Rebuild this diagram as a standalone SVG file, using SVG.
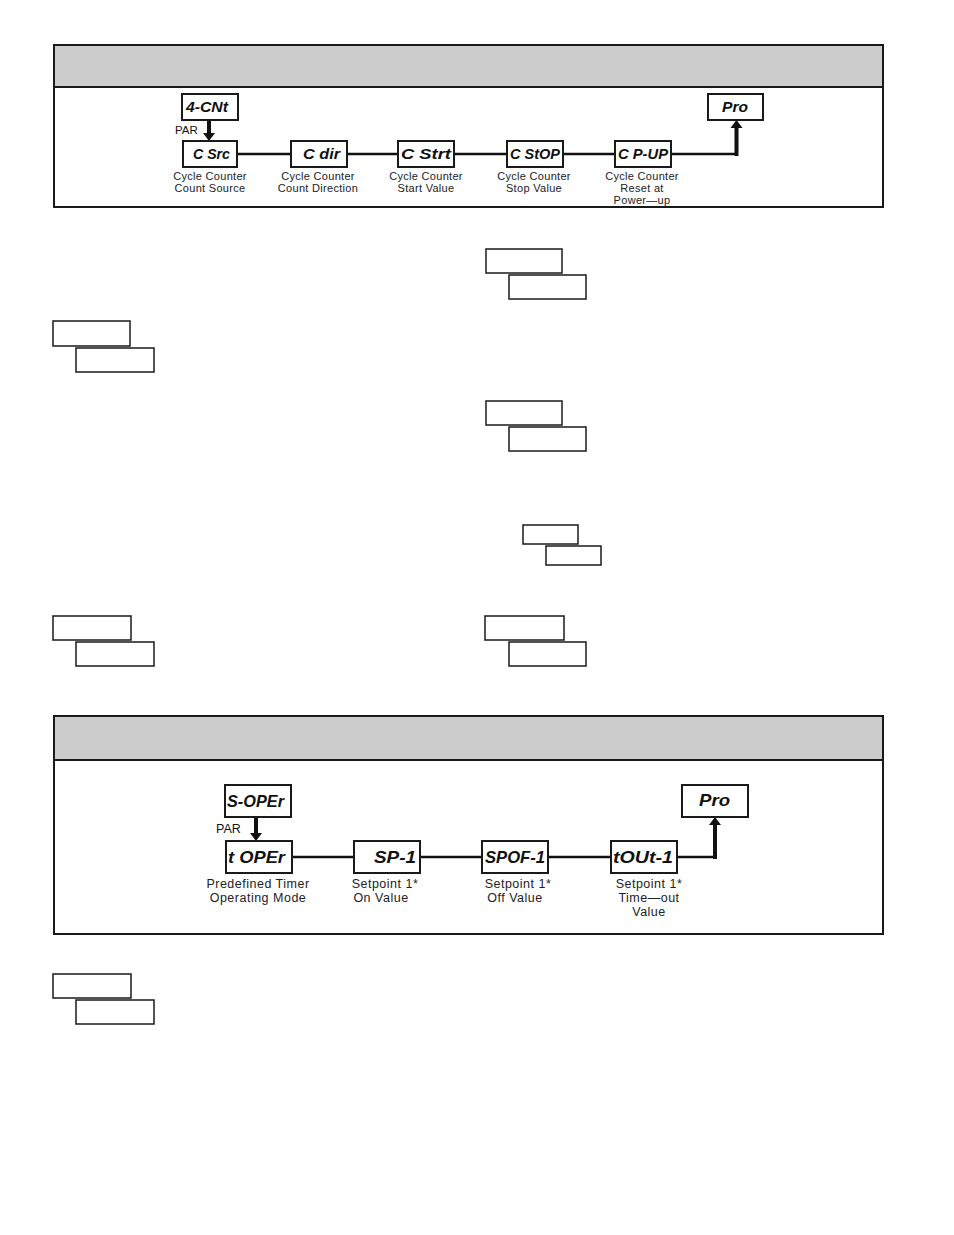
<svg xmlns="http://www.w3.org/2000/svg" width="954" height="1235" viewBox="0 0 954 1235">
<style>
.panel{fill:#fff;stroke:#1a1a1a;stroke-width:2}
.hdr{fill:#cccccc;stroke:#1a1a1a;stroke-width:2}
.node{fill:#fff;stroke:#1a1a1a;stroke-width:2}
.ebox{fill:#fff;stroke:#1a1a1a;stroke-width:1.5}
.seg{font-family:"Liberation Sans","DejaVu Sans",sans-serif;font-weight:bold;font-style:italic;fill:#111}
.s1{font-size:14px}
.s2{font-size:17px}
.lbl{font-family:"Liberation Sans",Arial,sans-serif;fill:#222;text-anchor:middle}
.l1{font-size:11px;letter-spacing:0.3px}
.l2{font-size:12.5px;letter-spacing:0.5px}
.par{font-family:"Liberation Sans",Arial,sans-serif;fill:#111}
.line{fill:none;stroke:#111;stroke-width:2.5}
.thick{fill:none;stroke:#111;stroke-width:4}
.head{fill:#111}
</style>

<g id="panel-top">
<rect class="panel" x="54" y="45" width="829" height="162"/>
<rect class="hdr" x="54" y="45" width="829" height="42"/>
</g>

<g id="connectors-top">
<path class="line" d="M237,154 H291 M347,154 H398 M454,154 H507 M563,154 H615 M671,154 H736.5"/>
<path class="thick" d="M736.5,156 V127"/>
<polygon class="head" points="730.5,128 742.5,128 736.5,120"/>
<path class="thick" d="M209,120 V134"/>
<polygon class="head" points="203,133 215,133 209,141"/>
</g>
<text class="par" x="175" y="134" font-size="11.5">PAR</text>

<g id="n-4cnt"><rect class="node" x="182" y="94" width="56" height="26"/><text class="seg s1" x="186" y="112" textLength="42" lengthAdjust="spacingAndGlyphs">4-CNt</text></g>
<g id="n-csrc"><rect class="node" x="183" y="141" width="54" height="26"/><text class="seg s1" x="193" y="159" textLength="37" lengthAdjust="spacingAndGlyphs">C Src</text>
<text class="lbl l1" x="210" y="180">Cycle Counter</text><text class="lbl l1" x="210" y="192">Count Source</text></g>
<g id="n-cdir"><rect class="node" x="291" y="141" width="56" height="26"/><text class="seg s1" x="303" y="159" textLength="37" lengthAdjust="spacingAndGlyphs">C dir</text>
<text class="lbl l1" x="318" y="180">Cycle Counter</text><text class="lbl l1" x="318" y="192">Count Direction</text></g>
<g id="n-cstrt"><rect class="node" x="398" y="141" width="56" height="26"/><text class="seg s1" x="401" y="159" textLength="50" lengthAdjust="spacingAndGlyphs">C Strt</text>
<text class="lbl l1" x="426" y="180">Cycle Counter</text><text class="lbl l1" x="426" y="192">Start Value</text></g>
<g id="n-cstop"><rect class="node" x="507" y="141" width="56" height="26"/><text class="seg s1" x="510" y="159" textLength="50" lengthAdjust="spacingAndGlyphs">C StOP</text>
<text class="lbl l1" x="534" y="180">Cycle Counter</text><text class="lbl l1" x="534" y="192">Stop Value</text></g>
<g id="n-cpup"><rect class="node" x="615" y="141" width="56" height="26"/><text class="seg s1" x="618" y="159" textLength="50" lengthAdjust="spacingAndGlyphs">C P-UP</text>
<text class="lbl l1" x="642" y="180">Cycle Counter</text><text class="lbl l1" x="642" y="192">Reset at</text><text class="lbl l1" x="642" y="204">Power—up</text></g>
<g id="n-pro1"><rect class="node" x="708" y="94" width="55" height="26"/><text class="seg s1" x="722" y="112" textLength="26" lengthAdjust="spacingAndGlyphs">Pro</text></g>

<g id="empty-boxes">
<rect class="ebox" x="486" y="249" width="76" height="24"/>
<rect class="ebox" x="509" y="275" width="77" height="24"/>
<rect class="ebox" x="53" y="321" width="77" height="25"/>
<rect class="ebox" x="76" y="348" width="78" height="24"/>
<rect class="ebox" x="486" y="401" width="76" height="24"/>
<rect class="ebox" x="509" y="427" width="77" height="24"/>
<rect class="ebox" x="523" y="525" width="55" height="19"/>
<rect class="ebox" x="546" y="546" width="55" height="19"/>
<rect class="ebox" x="53" y="616" width="78" height="24"/>
<rect class="ebox" x="76" y="642" width="78" height="24"/>
<rect class="ebox" x="485" y="616" width="79" height="24"/>
<rect class="ebox" x="509" y="642" width="77" height="24"/>
<rect class="ebox" x="53" y="974" width="78" height="24"/>
<rect class="ebox" x="76" y="1000" width="78" height="24"/>
</g>

<g id="panel-bottom">
<rect class="panel" x="54" y="716" width="829" height="218"/>
<rect class="hdr" x="54" y="716" width="829" height="44"/>
</g>

<g id="connectors-bottom">
<path class="line" d="M292,857 H354 M420,857 H482 M548,857 H611 M677,857 H715"/>
<path class="thick" d="M715,859 V824"/>
<polygon class="head" points="709,825 721,825 715,817"/>
<path class="thick" d="M256,817 V834"/>
<polygon class="head" points="250,833 262,833 256,841"/>
</g>
<text class="par" x="216" y="833" font-size="12.5">PAR</text>

<g id="n-soper"><rect class="node" x="225" y="785" width="66" height="32"/><text class="seg s2" x="227" y="807" textLength="57" lengthAdjust="spacingAndGlyphs">S-OPEr</text></g>
<g id="n-toper"><rect class="node" x="226" y="841" width="66" height="32"/><text class="seg s2" x="228" y="863" textLength="57" lengthAdjust="spacingAndGlyphs">t OPEr</text>
<text class="lbl l2" x="258" y="888">Predefined Timer</text><text class="lbl l2" x="258" y="902">Operating Mode</text></g>
<g id="n-sp1"><rect class="node" x="354" y="841" width="66" height="32"/><text class="seg s2" x="374" y="863" textLength="42" lengthAdjust="spacingAndGlyphs">SP-1</text>
<text class="lbl l2" x="385" y="888">Setpoint 1*</text><text class="lbl l2" x="381" y="902">On Value</text></g>
<g id="n-spof1"><rect class="node" x="482" y="841" width="66" height="32"/><text class="seg s2" x="485" y="863" textLength="60" lengthAdjust="spacingAndGlyphs">SPOF-1</text>
<text class="lbl l2" x="518" y="888">Setpoint 1*</text><text class="lbl l2" x="515" y="902">Off Value</text></g>
<g id="n-tout1"><rect class="node" x="611" y="841" width="66" height="32"/><text class="seg s2" x="613" y="863" textLength="60" lengthAdjust="spacingAndGlyphs">tOUt-1</text>
<text class="lbl l2" x="649" y="888">Setpoint 1*</text><text class="lbl l2" x="649" y="902">Time—out</text><text class="lbl l2" x="649" y="916">Value</text></g>
<g id="n-pro2"><rect class="node" x="682" y="785" width="66" height="32"/><text class="seg s2" x="699" y="806" textLength="31" lengthAdjust="spacingAndGlyphs">Pro</text></g>
</svg>
